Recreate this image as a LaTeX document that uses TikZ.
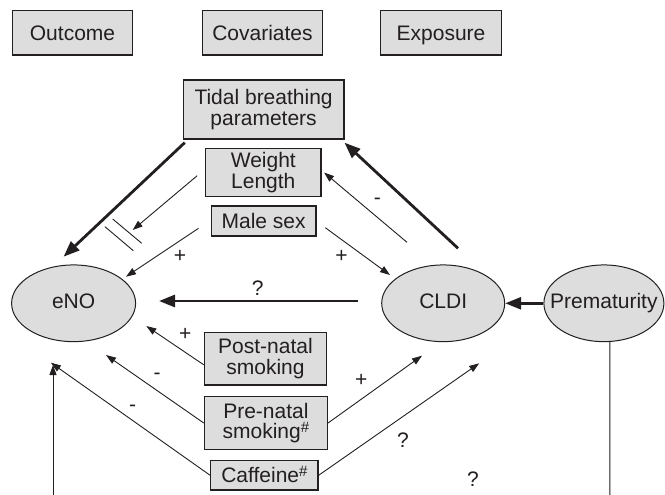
\documentclass[tikz,border=0pt]{standalone}
\usepackage{fontspec}
\setmainfont{Liberation Sans}
\usetikzlibrary{arrows.meta,shapes.geometric}
\definecolor{boxfill}{RGB}{221,221,221}
\definecolor{ink}{RGB}{35,31,32}
\newcommand{\hashsup}{\raisebox{6pt}{\fontsize{15}{15}\selectfont\#}}
\tikzset{
  box/.style={draw=ink, line width=1.3pt, fill=boxfill, rectangle, inner sep=0pt, align=center,
    font=\fontsize{21}{20.5}\selectfont, text=ink},
  onebox/.style={box, text height=15pt, text depth=0pt},
  oval/.style={draw=ink, line width=1pt, fill=boxfill, ellipse, inner sep=0pt,
    font=\fontsize{21}{21}\selectfont, text=ink, minimum height=76.7pt,
    text height=15pt, text depth=5pt},
  thinarrow/.style={draw=ink, line width=0.9pt, -{Triangle[length=10pt,width=7pt]}},
  thickarrow/.style={draw=ink, line width=2.8pt, -{Triangle[length=16pt,width=12pt]}},
  thinline/.style={draw=ink, line width=0.9pt},
  sign/.style={inner sep=0pt, font=\fontsize{21}{21}\selectfont, text=ink}
}
\begin{document}
\begin{tikzpicture}[x=1pt,y=-1pt]
\useasboundingbox (0,0) rectangle (665,495);
% legend boxes
\node[onebox, minimum width=119.6pt, minimum height=44.3pt] (outcome) at (72.5,32.8) {Outcome};
\node[onebox, minimum width=119.6pt, minimum height=44.3pt] (cov) at (262.5,32.8) {Covariates};
\node[onebox, minimum width=120.5pt, minimum height=44.3pt] (expo) at (441,32.8) {Exposure};
% covariates
\node[box, minimum width=160.5pt, minimum height=59pt] (tidal) at (263.6,109.5) {Tidal breathing\\parameters};
\node[box, minimum width=115.3pt, minimum height=48.4pt] (weight) at (263.3,172.5) {Weight\\Length};
\node[onebox, minimum width=104.8pt, minimum height=30pt] (male) at (263.6,221) {Male sex};
\node[box, minimum width=122.2pt, minimum height=52.3pt] (post) at (265.5,358.8) {Post-natal\\smoking};
\node[box, minimum width=123pt, minimum height=52.6pt] (pre) at (265.9,423) {Pre-natal\\smoking\hashsup};
\node[onebox, minimum width=107.2pt, minimum height=29.3pt] (caff) at (264.4,475.3) {Caffeine\hashsup};
% ovals
\node[oval, minimum width=124pt] (eno) at (73.6,303.3) {\makebox[0pt]{eNO}};
\node[oval, minimum width=123pt] (cldi) at (443.2,303.3) {\makebox[0pt]{CLDI}};
\node[oval, minimum width=120pt] (prem) at (603.9,303.3) {\makebox[0pt]{Prematurity}};
% free ends
\coordinate (tE1) at (63.6,256.7);
\coordinate (c1) at (458,248.3);
\coordinate (w1) at (197.2,175.7);
\coordinate (tE3) at (132.7,230);
\coordinate (c2) at (407,242.3);
\coordinate (m1) at (198.5,228.3);
\coordinate (tE5) at (126,276.7);
\coordinate (m2) at (325.3,227.7);
\coordinate (tC6) at (390,275);
\coordinate (c3) at (358.4,301);
\coordinate (tE7) at (159,301);
\coordinate (tE9) at (146.3,326);
\coordinate (tE10) at (106,355);
\coordinate (tE11) at (50.9,362.7);
\coordinate (tC12) at (422,355.7);
\coordinate (tC13) at (479.2,363.3);
\coordinate (bot1) at (53,496);
\coordinate (tE14) at (53,365);
\coordinate (bot2) at (609.8,496);
% arrows
\draw[thickarrow] ([shift={(2,3)}]tidal.south west) -- (tE1);
\draw[thickarrow] (c1) -- ([shift={(0,3)}]tidal.south east);
\draw[thinarrow] (w1) -- (tE3);
\draw[thinarrow] (c2) -- ([shift={(2.5,0)}]weight.east);
\draw[thinarrow] (m1) -- (tE5);
\draw[thinarrow] (m2) -- (tC6);
\draw[thickarrow] (c3) -- (tE7);
\draw[thickarrow] (prem.west) -- (cldi.east);
\draw[thinarrow] ([shift={(0,6)}]post.west) -- (tE9);
\draw[thinarrow] (pre.west) -- (tE10);
\draw[thinarrow] (caff.west) -- (tE11);
\draw[thinarrow] (pre.east) -- (tC12);
\draw[thinarrow] (caff.east) -- (tC13);
\draw[thinarrow] (bot1) -- (tE14);
\draw[thinline] ([shift={(6,0)}]prem.south) -- (bot2);
% break marks
\draw[thinline] (105,226.7) -- (133.3,250.7);
\draw[thinline] (112.7,219) -- (141.7,243.3);
% signs
\node[sign] (s1) at (377.4,201.7) {-};
\node[sign] (s2) at (180,256.7) {+};
\node[sign] (s3) at (341.4,256.7) {+};
\node[sign] (s4) at (257.8,288.3) {?};
\node[sign] (s5) at (185.3,334.3) {+};
\node[sign] (s6) at (157,376.7) {-};
\node[sign] (s7) at (132.7,408.3) {-};
\node[sign] (s8) at (361.3,380.7) {+};
\node[sign] (s9) at (402.9,440) {?};
\node[sign] (s10) at (472.9,479.3) {?};
\end{tikzpicture}
\end{document}
